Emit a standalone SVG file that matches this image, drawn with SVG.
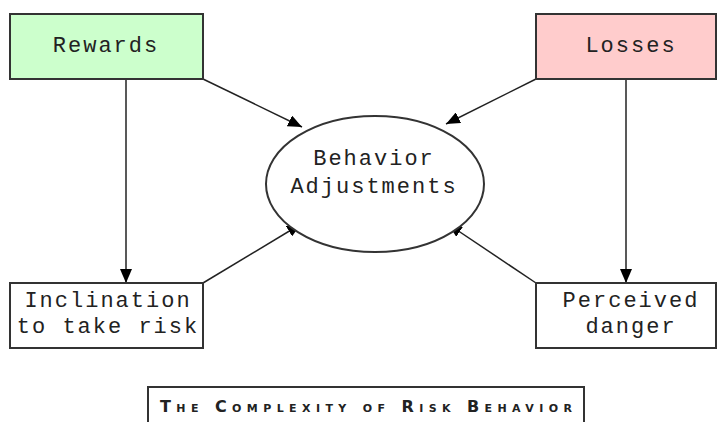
<svg xmlns="http://www.w3.org/2000/svg" width="726" height="422" viewBox="0 0 726 422">
<style>
.box{stroke:#333;stroke-width:2;}
.t{font-family:"Liberation Mono","Courier New",monospace;font-size:22px;letter-spacing:2px;fill:#222;text-anchor:middle;}
.c{stroke:#222;stroke-width:1.5;fill:none;}
.cap{font-family:"DejaVu Sans","Liberation Sans",sans-serif;font-size:16px;font-variant:small-caps;font-weight:bold;fill:#222;text-anchor:middle;}
</style>
<defs>
<marker id="ahl" viewBox="0 0 14 12" refX="14" refY="6" markerWidth="14" markerHeight="12" markerUnits="userSpaceOnUse" orient="auto">
<path d="M0,0 L14,6 L0,12 z" fill="#000"/>
</marker>
</defs>
<rect width="726" height="422" fill="#fff"/>
<g id="connectors">
<line class="c" x1="126" y1="79" x2="126" y2="283" marker-end="url(#ahl)"/>
<line class="c" x1="626" y1="79" x2="626" y2="283" marker-end="url(#ahl)"/>
<line class="c" x1="203" y1="79" x2="302" y2="127" marker-end="url(#ahl)"/>
<line class="c" x1="536" y1="79" x2="446" y2="124" marker-end="url(#ahl)"/>
<line class="c" x1="203" y1="283" x2="301" y2="224" marker-end="url(#ahl)"/>
<line class="c" x1="536" y1="283" x2="448" y2="224" marker-end="url(#ahl)"/>
</g>
<g id="rewards">
<rect class="box" x="10" y="14" width="193" height="65" fill="#ccffcc"/>
<text class="t" x="106" y="52">Rewards</text>
</g>
<g id="losses">
<rect class="box" x="536" y="14" width="180" height="65" fill="#ffcccc"/>
<text class="t" x="631" y="52">Losses</text>
</g>
<g id="behavior">
<ellipse class="box" cx="375" cy="184" rx="109" ry="68" fill="#fff" stroke-width="1.5"/>
<text class="t" x="374" y="165">Behavior</text>
<text class="t" x="374" y="193">Adjustments</text>
</g>
<g id="inclination">
<rect class="box" x="10" y="283" width="193" height="65" fill="#fff"/>
<text class="t" x="108" y="307">Inclination</text>
<text class="t" x="108" y="333">to take risk</text>
</g>
<g id="perceived">
<rect class="box" x="536" y="283" width="180" height="65" fill="#fff"/>
<text class="t" x="631" y="307">Perceived</text>
<text class="t" x="631" y="333">danger</text>
</g>
<g id="caption">
<rect class="box" x="148" y="387" width="436" height="50" fill="#fff"/>
<text class="cap" x="366" y="412" textLength="412" lengthAdjust="spacing">The Complexity of Risk Behavior</text>
</g>
</svg>
